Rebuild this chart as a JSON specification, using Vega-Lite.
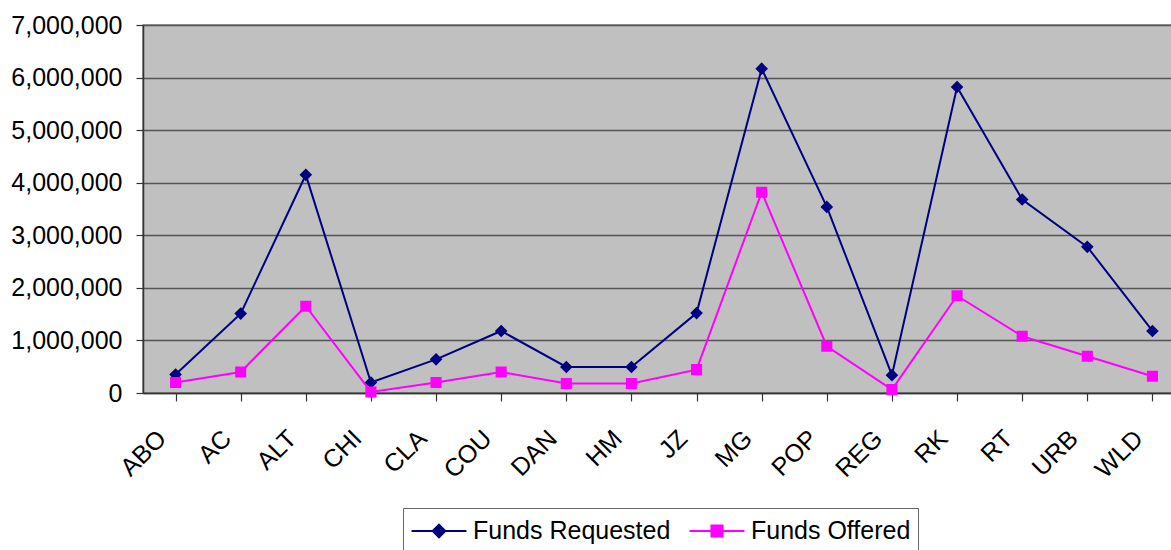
{
  "$schema": "https://vega.github.io/schema/vega-lite/v6.json",
  "autosize": {"type": "none"},
  "padding": {"left": 143, "top": 25, "right": 0, "bottom": 157},
  "width": 1042,
  "height": 368,
  "background": "white",
  "config": {
    "font": "Liberation Sans",
    "view": {"fill": "#C0C0C0", "stroke": "#808080", "strokeWidth": 1.5},
    "axis": {"labelFont": "Liberation Sans", "labelColor": "black", "titleFont": "Liberation Sans"}
  },
  "data": {
    "values": [
      {"code": "ABO", "series": "Funds Requested", "amount": 350000},
      {"code": "AC", "series": "Funds Requested", "amount": 1510000},
      {"code": "ALT", "series": "Funds Requested", "amount": 4150000},
      {"code": "CHI", "series": "Funds Requested", "amount": 200000},
      {"code": "CLA", "series": "Funds Requested", "amount": 640000},
      {"code": "COU", "series": "Funds Requested", "amount": 1180000},
      {"code": "DAN", "series": "Funds Requested", "amount": 495000},
      {"code": "HM", "series": "Funds Requested", "amount": 495000},
      {"code": "JZ", "series": "Funds Requested", "amount": 1520000},
      {"code": "MG", "series": "Funds Requested", "amount": 6170000},
      {"code": "POP", "series": "Funds Requested", "amount": 3540000},
      {"code": "REG", "series": "Funds Requested", "amount": 340000},
      {"code": "RK", "series": "Funds Requested", "amount": 5820000},
      {"code": "RT", "series": "Funds Requested", "amount": 3680000},
      {"code": "URB", "series": "Funds Requested", "amount": 2780000},
      {"code": "WLD", "series": "Funds Requested", "amount": 1180000},
      {"code": "ABO", "series": "Funds Offered", "amount": 200000},
      {"code": "AC", "series": "Funds Offered", "amount": 400000},
      {"code": "ALT", "series": "Funds Offered", "amount": 1650000},
      {"code": "CHI", "series": "Funds Offered", "amount": 20000},
      {"code": "CLA", "series": "Funds Offered", "amount": 200000},
      {"code": "COU", "series": "Funds Offered", "amount": 400000},
      {"code": "DAN", "series": "Funds Offered", "amount": 180000},
      {"code": "HM", "series": "Funds Offered", "amount": 180000},
      {"code": "JZ", "series": "Funds Offered", "amount": 445000},
      {"code": "MG", "series": "Funds Offered", "amount": 3820000},
      {"code": "POP", "series": "Funds Offered", "amount": 890000},
      {"code": "REG", "series": "Funds Offered", "amount": 65000},
      {"code": "RK", "series": "Funds Offered", "amount": 1850000},
      {"code": "RT", "series": "Funds Offered", "amount": 1080000},
      {"code": "URB", "series": "Funds Offered", "amount": 700000},
      {"code": "WLD", "series": "Funds Offered", "amount": 320000}
    ]
  },
  "encoding": {
    "x": {
      "field": "code", "type": "nominal", "sort": null,
      "scale": {"paddingInner": 0, "paddingOuter": 0},
      "axis": {
        "title": null, "labelAngle": -45, "labelAlign": "right", "labelBaseline": "middle",
        "labelFontSize": 25, "labelPadding": 33, "labelOffset": -14, "bandPosition": 0,
        "tickSize": 8, "tickColor": "#333", "domainColor": "#333", "domainWidth": 1.5, "tickWidth": 1.2,
        "grid": false
      }
    },
    "y": {
      "field": "amount", "type": "quantitative",
      "scale": {"domain": [0, 7000000], "nice": false},
      "axis": {
        "title": null, "values": [0, 1000000, 2000000, 3000000, 4000000, 5000000, 6000000, 7000000],
        "format": ",d", "labelFontSize": 25, "labelPadding": 14, "tickSize": 7,
        "tickColor": "#333", "domainColor": "#333", "domainWidth": 1.5, "tickWidth": 1.2,
        "grid": true, "gridColor": "#555555", "gridWidth": 1.3
      }
    },
    "color": {
      "field": "series", "type": "nominal", "sort": ["Funds Requested", "Funds Offered"],
      "scale": {"domain": ["Funds Requested", "Funds Offered"], "range": ["#000080", "#FF00FF"]},
      "legend": {
        "title": null, "orient": "none", "direction": "horizontal",
        "legendX": 260, "legendY": 483,
        "fillColor": "white", "strokeColor": "#666", "padding": 7,
        "labelFontSize": 25, "labelFont": "Liberation Sans", "labelColor": "black", "labelLimit": 400,
        "symbolSize": 900, "symbolStrokeWidth": 2, "symbolOffset": 13, "labelOffset": 18, "columnPadding": 14
      }
    }
  },
  "layer": [
    {"mark": {"type": "line", "strokeWidth": 2}},
    {
      "mark": {"type": "point", "filled": true, "opacity": 1},
      "encoding": {
        "shape": {"field": "series", "type": "nominal", "scale": {"domain": ["Funds Requested", "Funds Offered"], "range": ["M-1.83,0H1.83M0,-0.42L0.42,0L0,0.42L-0.42,0Z", "M-1.83,0H1.83M-0.37,-0.37H0.37V0.37H-0.37Z"]}, "legend": null},
        "size": {"value": 900}
      }
    }
  ]
}
